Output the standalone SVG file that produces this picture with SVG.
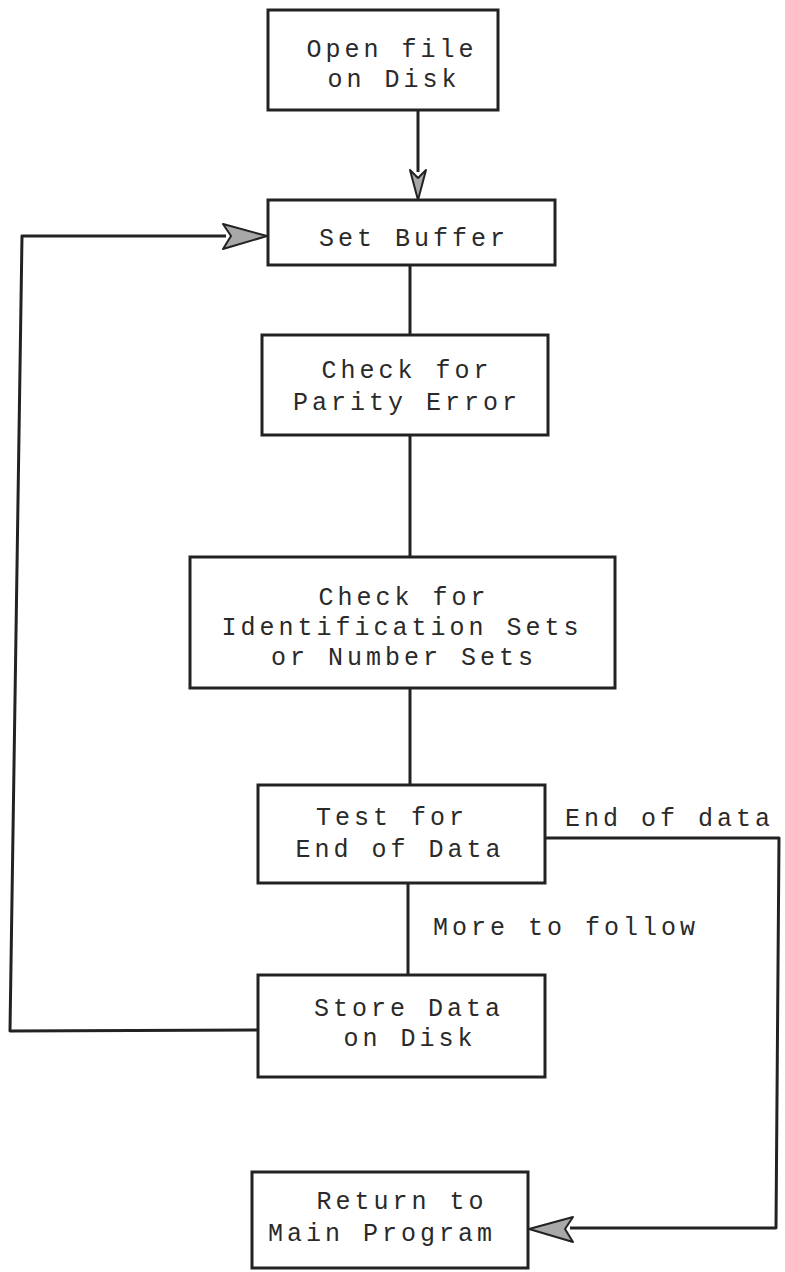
<svg xmlns="http://www.w3.org/2000/svg" width="785" height="1272" viewBox="0 0 785 1272">
<style>
.box{fill:#fff;stroke:#222;stroke-width:3}
.ln{fill:none;stroke:#222;stroke-width:3;stroke-linejoin:round}
.head{fill:#a8a8a8;stroke:#222;stroke-width:2;stroke-linejoin:round}
text{font-family:"Liberation Mono","Courier New",monospace;font-size:25px;fill:#2a2a2a;letter-spacing:4px}
.c{text-anchor:middle}
</style>
<rect width="785" height="1272" fill="#fff"/>
<g id="connectors">
<path class="ln" d="M418 110 V172"/>
<polygon class="head" points="410,170 418,200 426,170 418,178"/>
<path class="ln" d="M410 265 V335"/>
<path class="ln" d="M410 435 V557"/>
<path class="ln" d="M410 688 V785"/>
<path class="ln" d="M408 883 V975"/>
<path class="ln" d="M258 1030 L10 1031 L22 236 H226"/>
<polygon class="head" points="223,224 267,236 223,249 231,236"/>
<path class="ln" d="M545 838 H779 L776 1228 H570"/>
<polygon class="head" points="573,1217 529,1229 573,1242 565,1229"/>
</g>
<g id="n1"><rect class="box" x="268" y="10" width="230" height="100"/>
<text class="c" x="392" y="57">Open file</text><text class="c" x="394" y="87">on Disk</text></g>
<g id="n2"><rect class="box" x="268" y="200" width="287" height="65"/>
<text class="c" x="414" y="246">Set Buffer</text></g>
<g id="n3"><rect class="box" x="262" y="335" width="286" height="100"/>
<text class="c" x="407" y="378">Check for</text><text class="c" x="407" y="410">Parity Error</text></g>
<g id="n4"><rect class="box" x="190" y="557" width="425" height="131"/>
<text class="c" x="404" y="605">Check for</text><text class="c" x="402" y="635">Identification Sets</text><text class="c" x="404" y="665">or Number Sets</text></g>
<g id="n5"><rect class="box" x="258" y="785" width="287" height="98"/>
<text class="c" x="392" y="825">Test for</text><text class="c" x="400" y="857">End of Data</text></g>
<g id="n6"><rect class="box" x="258" y="975" width="287" height="102"/>
<text class="c" x="409" y="1016">Store Data</text><text class="c" x="410" y="1046">on Disk</text></g>
<g id="n7"><rect class="box" x="252" y="1172" width="276" height="96"/>
<text class="c" x="402" y="1209">Return to</text><text class="c" x="382" y="1241">Main Program</text></g>
<g id="labels">
<text x="565" y="826">End of data</text>
<text x="433" y="935">More to follow</text>
</g>
</svg>
